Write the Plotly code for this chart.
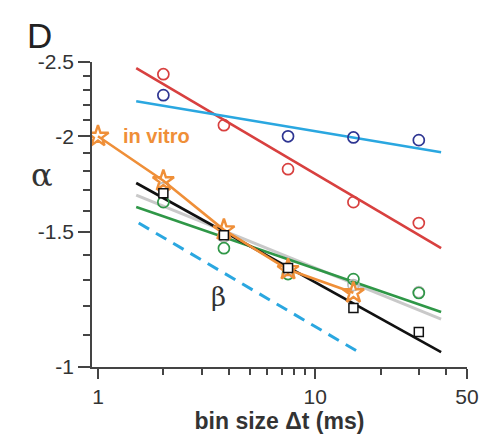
import numpy as np
import plotly.graph_objects as go

# ---- data (|alpha| values; axis labels show negatives) ----
bins = [2, 3.8, 7.5, 15, 30]

invitro_x = [1, 2, 3.8, 7.5, 15]
invitro_y = [2.0, 1.75, 1.51, 1.34, 1.25]

black_y = [1.686, 1.486, 1.346, 1.194, 1.111]
green_y = [1.641, 1.429, 1.322, 1.302, 1.249]
gray_y = [1.712, 1.48, 1.338, 1.279, 1.252]
red_y = [2.41, 2.068, 1.812, 1.641, 1.541]
navy_x = [2, 7.5, 15, 30]
navy_y = [2.263, 2.0, 1.993, 1.977]

# fitted lines (end points)
fit_x = [1.5, 38]
red_fit = [2.454, 1.429]
cyan_fit = [2.222, 1.906]
black_fit = [1.738, 1.046]
gray_fit = [1.676, 1.155]
green_fit = [1.617, 1.18]
beta_x = [1.54, 16.4]
beta_fit = [1.541, 1.04]

yticks = [1, 1.5, 2, 2.5]
yticktext = ["-1", "-1.5", "-2", "-2.5"]
xticks = [1, 10, 50]
xticktext = ["1", "10", "50"]
yminor = [1.1, 1.2, 1.3, 1.4, 1.6, 1.7, 1.8, 1.9, 2.1, 2.2, 2.3, 2.4]
xminor = [2, 3, 4, 5, 6, 7, 8, 9, 20, 30, 40]

RED = "#D8403F"
CYAN = "#2AA7E0"
NAVY = "#2E3592"
GREEN = "#2F9747"
GRAY = "#C9C9C9"
ORANGE = "#EF8F38"

fig = go.Figure()


def line(x, y, color, width=2.6, dash=None):
    fig.add_trace(go.Scatter(x=x, y=y, mode="lines",
                             line=dict(color=color, width=width, dash=dash),
                             showlegend=False, hoverinfo="skip"))


def pts(x, y, color, symbol="circle-open", size=11, lw=1.7):
    fig.add_trace(go.Scatter(x=x, y=y, mode="markers",
                             marker=dict(symbol=symbol, size=size, color=color,
                                         line=dict(color=color, width=lw)),
                             showlegend=False))


line(fit_x, gray_fit, GRAY, 3)
line(fit_x, green_fit, GREEN)
line(fit_x, black_fit, "#111111")
line(fit_x, red_fit, RED)
line(fit_x, cyan_fit, CYAN)
line(beta_x, beta_fit, CYAN, 3, "12px,8px")

pts(bins, gray_y, "#BBBBBB")
pts(bins, green_y, GREEN)
pts(bins, red_y, RED)
pts(navy_x, navy_y, NAVY)

fig.add_trace(go.Scatter(x=invitro_x, y=invitro_y, mode="lines+markers",
                         line=dict(color=ORANGE, width=2.6),
                         marker=dict(symbol="star-open", size=16, color=ORANGE,
                                     line=dict(color=ORANGE, width=2.4)),
                         showlegend=False))

fig.add_trace(go.Scatter(x=bins, y=black_y, mode="markers",
                         marker=dict(symbol="square", size=9, color="white",
                                     line=dict(color="#111111", width=1.5)),
                         showlegend=False))

FONT = "Arial, Liberation Sans, sans-serif"
axis_common = dict(showline=True, linecolor="#444444", linewidth=1.5,
                   ticks="outside", tickcolor="#444444", tickwidth=1.5,
                   showgrid=False, zeroline=False, automargin=False,
                   tickfont=dict(family=FONT, size=21, color="#333333"))

fig.update_xaxes(type="log", range=[-0.0275, np.log10(50)],
                 tickmode="array", tickvals=xticks, ticktext=xticktext,
                 ticklen=10,
                 minor=dict(tickmode="array", tickvals=xminor, ticklen=6,
                            tickcolor="#444444", tickwidth=1.5, ticks="outside"),
                 title=dict(text="<b>bin size \u0394t (ms)</b>", standoff=6,
                            font=dict(family=FONT, size=23, color="#333333")),
                 **axis_common)
fig.update_yaxes(type="log", range=[0, np.log10(2.5)],
                 tickmode="array", tickvals=yticks, ticktext=yticktext,
                 ticklen=12,
                 minor=dict(tickmode="array", tickvals=yminor, ticklen=7,
                            tickcolor="#444444", tickwidth=1.5, ticks="outside"),
                 **axis_common)

fig.add_annotation(text="D", xref="paper", yref="paper", x=-0.139, y=1.088,
                   xanchor="center", yanchor="middle", showarrow=False,
                   font=dict(family=FONT, size=35, color="#222222"))
fig.add_annotation(text="\u03b1", xref="paper", yref="paper", x=-0.133, y=0.63,
                   xanchor="center", yanchor="middle", showarrow=False,
                   font=dict(family="DejaVu Serif, serif", size=32, color="#333333"))
fig.add_annotation(text="\u03b2", xref="x", yref="y", x=np.log10(3.59), y=np.log10(1.234),
                   xanchor="center", yanchor="middle", showarrow=False,
                   font=dict(family="DejaVu Serif, serif", size=26, color="#333333"))
fig.add_annotation(text="<b>in vitro</b>", xref="x", yref="y", x=np.log10(1.865), y=np.log10(2.0),
                   xanchor="center", yanchor="middle", showarrow=False,
                   font=dict(family=FONT, size=20, color=ORANGE))

fig.update_layout(width=483, height=437,
                  margin=dict(l=92, r=16, t=62, b=70),
                  paper_bgcolor="white", plot_bgcolor="white")

fig.write_html("out.html", config={"displayModeBar": False},
               post_script="document.body.style.margin='0';document.body.style.overflow='hidden';")
